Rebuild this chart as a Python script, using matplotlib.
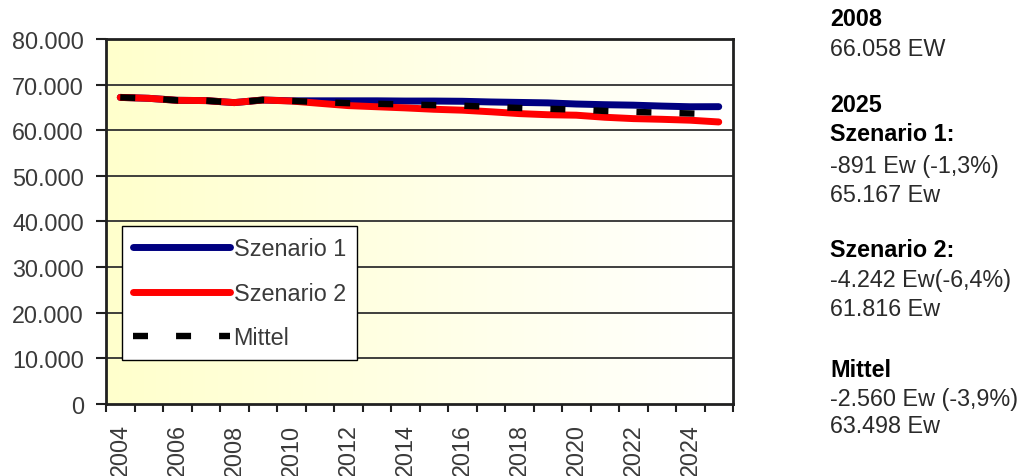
import numpy as np
import matplotlib
matplotlib.use("Agg")
import matplotlib.pyplot as plt
from matplotlib.colors import LinearSegmentedColormap

plt.rcParams['font.family'] = ['Liberation Sans', 'DejaVu Sans']
plt.rcParams['lines.scale_dashes'] = False

years = list(range(2004, 2026))
szenario1 = [67200, 67000, 66560, 66500, 66058, 66630, 66450, 66450, 66450, 66450, 66400,
             66400, 66350, 66200, 66100, 66000, 65750, 65600, 65500, 65300, 65150, 65167]
szenario2 = [67200, 67000, 66560, 66500, 66058, 66630, 66410, 65900, 65400, 65150, 64900,
             64600, 64400, 64050, 63650, 63400, 63300, 62850, 62550, 62400, 62200, 61816]
mittel = [67200, 67000, 66560, 66500, 66058, 66630, 66430, 66180, 65930, 65800, 65650,
          65500, 65380, 65130, 64880, 64700, 64530, 64230, 64030, 63850, 63680, 63498]

y_ticks = [0, 10000, 20000, 30000, 40000, 50000, 60000, 70000, 80000]
y_labels = ["0", "10.000", "20.000", "30.000", "40.000", "50.000", "60.000", "70.000", "80.000"]

side_lines = [
    ("2008", True), ("66.058 EW", False),
    ("2025", True), ("Szenario 1:", True), ("-891 Ew (-1,3%)", False), ("65.167 Ew", False),
    ("Szenario 2:", True), ("-4.242 Ew(-6,4%)", False), ("61.816 Ew", False),
    ("Mittel", True), ("-2.560 Ew (-3,9%)", False), ("63.498 Ew", False),
]
side_y = [20, 50, 106, 135, 166, 195, 251, 281, 310, 371, 400, 427]

FS = 16.8
W, H = 1022, 477
fig = plt.figure(figsize=(W / 100, H / 100), dpi=100)
left, right, top, bottom = 106, 733, 40, 405
ax = fig.add_axes([left / W, 1 - bottom / H, (right - left) / W, (bottom - top) / H])

# pale yellow to white background gradient
cmap = LinearSegmentedColormap.from_list("bg", ["#FFFFCC", "#FFFFFF"])
grad = np.linspace(0, 1, 256).reshape(1, -1)
ax.imshow(grad, cmap=cmap, aspect="auto", extent=[0, 1, 0, 1],
          transform=ax.transAxes, zorder=0, interpolation="bilinear")

x = np.arange(len(years))
ax.plot(x, szenario1, color="#000080", lw=5.0, solid_capstyle="round", zorder=3, label="Szenario 1")
ax.plot(x, szenario2, color="#FF0000", lw=5.0, solid_capstyle="round", zorder=4, label="Szenario 2")
ax.plot(x, mittel, color="#000000", lw=4.6, dashes=(10.8, 20.2), dash_capstyle="butt",
        zorder=5, label="Mittel")

ax.set_xlim(-0.5, len(years) - 0.5)
ax.set_ylim(0, 80000)

for yv in y_ticks[1:-1]:
    ax.axhline(yv, color="#303030", lw=1.3, zorder=1)

ax.set_yticks(y_ticks)
ax.set_yticklabels(y_labels)
ax.set_xticks(np.arange(-0.5, len(years), 1.0))
ax.set_xticklabels([])
ax.set_xticks(x[::2], minor=True)
ax.set_xticklabels([str(yv) for yv in years[::2]], minor=True, rotation=90)
ax.tick_params(axis="x", which="minor", length=0, pad=14, labelsize=FS, labelcolor="#3a3a3a")
ax.tick_params(axis="x", which="major", length=6, width=1.5, direction="out", color="#202020")
ax.tick_params(axis="y", length=7, width=1.5, direction="out", color="#202020",
               labelsize=FS, labelcolor="#3a3a3a", pad=9)

for sp in ax.spines.values():
    sp.set_linewidth(2)
    sp.set_color("#202020")

leg = ax.legend(loc="upper left", bbox_to_anchor=((122 - left) / (right - left), (bottom - 227) / (bottom - top)),
                frameon=True, fancybox=False, framealpha=1, edgecolor="#000000",
                fontsize=FS, handlelength=4.15, handletextpad=0.15, labelspacing=0.92,
                borderpad=0.48, borderaxespad=0)
leg.get_frame().set_linewidth(1)
for t in leg.get_texts():
    t.set_color("#3a3a3a")

for (txt, bold), yy in zip(side_lines, side_y):
    fig.text(830 / W, 1 - yy / H, txt, fontsize=FS, fontweight="bold" if bold else "normal",
             va="center", ha="left", color="#000000" if bold else "#2a2a2a")

fig.savefig("out.png", dpi=100)
